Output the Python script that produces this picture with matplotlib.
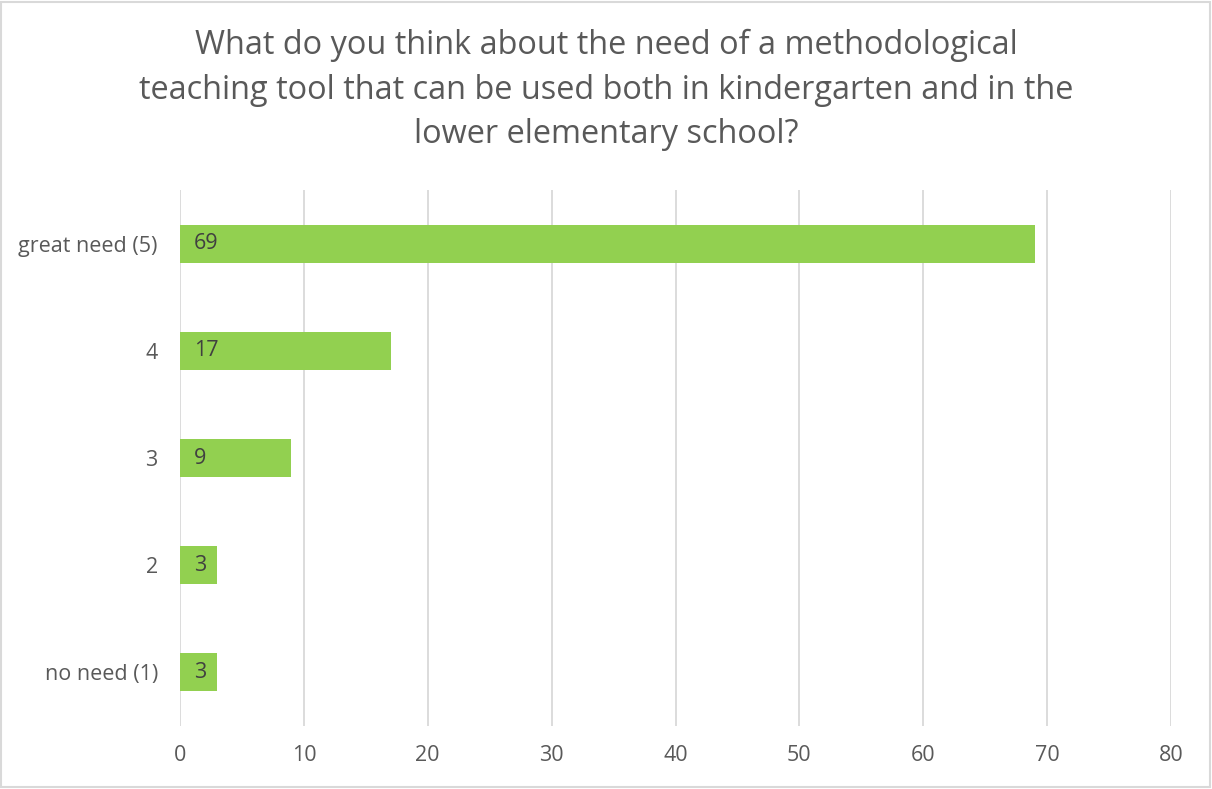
import matplotlib.pyplot as plt

# Survey answers, top to bottom as shown
categories = ['great need (5)', '4', '3', '2', 'no need (1)']
counts = [69, 17, 9, 3, 3]
x_ticks = [0, 10, 20, 30, 40, 50, 60, 70, 80]

title = ('What do you think about the need of a methodological\n'
         'teaching tool that can be used both in kindergarten and in the\n'
         'lower elementary school?')

plt.rcParams['font.family'] = ['Open Sans', 'DejaVu Sans']

fig = plt.figure(figsize=(12.12, 7.89), dpi=100)
ax = fig.add_axes([0.1485, 0.0798, 0.8177, 0.6794])

# Reverse so the first category sits on top
ypos = list(range(len(categories)))[::-1]
ax.barh(ypos, counts, height=0.355, color='#92d050', zorder=3)

for y, v in zip(ypos, counts):
    ax.annotate(str(v), xy=(0, y), xytext=(14, 0), textcoords='offset pixels',
                va='center', ha='left', fontsize=15.5, color='#404040', zorder=4)

ax.set_xlim(0, 80)
ax.set_ylim(-0.5, len(categories) - 0.5)
ax.set_xticks(x_ticks)
ax.set_yticks(ypos)
ax.set_yticklabels(categories)
ax.tick_params(axis='both', length=0, labelsize=15.5, colors='#595959')
ax.tick_params(axis='x', pad=14)
ax.tick_params(axis='y', pad=16)
ax.xaxis.grid(True, color='#d9d9d9', linewidth=1.3, zorder=0)
for s in ax.spines.values():
    s.set_visible(False)

fig.text(0.5, 0.886, title, ha='center', va='center', fontsize=23.4,
         color='#595959', linespacing=1.46)

# Light frame around the chart area
fig.patches.append(plt.Rectangle((0.001, 0.002), 0.997, 0.996, transform=fig.transFigure,
                                 fill=False, edgecolor='#d9d9d9', linewidth=1.5))

fig.savefig('out.png', dpi=100)
